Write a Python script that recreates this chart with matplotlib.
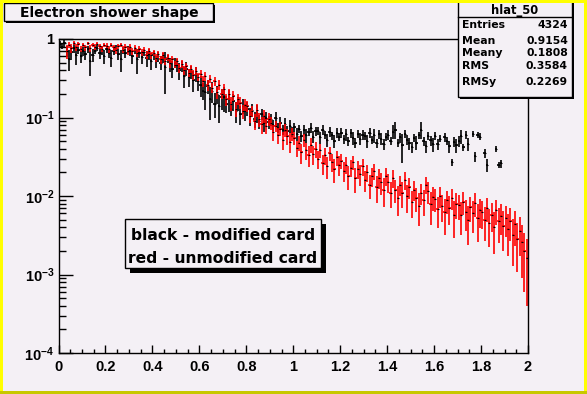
import numpy as np
import matplotlib
matplotlib.use('Agg')
import matplotlib.pyplot as plt
from matplotlib.patches import Rectangle
from matplotlib.ticker import FixedLocator, FixedFormatter, LogLocator, NullFormatter, MultipleLocator

plt.rcParams['font.family'] = ['Liberation Sans', 'DejaVu Sans']
plt.rcParams['font.weight'] = 'bold'
plt.rcParams['mathtext.fontset'] = 'custom'
plt.rcParams['mathtext.rm'] = 'Liberation Sans:bold'
plt.rcParams['mathtext.bf'] = 'Liberation Sans:bold'
plt.rcParams['mathtext.it'] = 'Liberation Sans:bold'

# ---------------- data ----------------
x_min, x_max, n_bins = 0.0, 2.0, 200

red_values = [
    0, 0, 0, 0.70, 0.84, 0.76, 0.88, 0.79, 0.86, 0.75,
    0.85, 0.78, 0.88, 0.76, 0.84, 0.79, 0.87, 0.81, 0.75, 0.85,
    0.82, 0.74, 0.85, 0.78, 0.72, 0.81, 0.84, 0.73, 0.80, 0.71,
    0.79, 0.70, 0.77, 0.67, 0.75, 0.68, 0.73, 0.63, 0.71, 0.62,
    0.67, 0.58, 0.64, 0.55, 0.62, 0.52, 0.58, 0.49, 0.55, 0.47,
    0.52, 0.43, 0.48, 0.40, 0.45, 0.37, 0.42, 0.35, 0.39, 0.33,
    0.36, 0.29, 0.34, 0.26, 0.31, 0.24, 0.29, 0.21, 0.26, 0.20,
    0.23, 0.17, 0.20, 0.15, 0.19, 0.13, 0.17, 0.155, 0.12, 0.145,
    0.14, 0.105, 0.12, 0.09, 0.125, 0.095, 0.082, 0.105, 0.078, 0.096,
    0.085, 0.065, 0.078, 0.06, 0.072, 0.052, 0.07, 0.058, 0.049, 0.062,
    0.055, 0.041, 0.048, 0.036, 0.052, 0.038, 0.033, 0.045, 0.034, 0.040,
    0.030, 0.038, 0.026, 0.033, 0.024, 0.035, 0.027, 0.022, 0.031, 0.025,
    0.028, 0.021, 0.025, 0.018, 0.023, 0.027, 0.017, 0.022, 0.019, 0.024,
    0.016, 0.020, 0.014, 0.018, 0.021, 0.013, 0.017, 0.015, 0.012, 0.018,
    0.015, 0.011, 0.017, 0.012, 0.0095, 0.014, 0.011, 0.016, 0.010, 0.013,
    0.0085, 0.012, 0.0095, 0.0075, 0.011, 0.0088, 0.014, 0.0115, 0.0078, 0.0098,
    0.0092, 0.0068, 0.010, 0.0075, 0.0062, 0.0088, 0.0071, 0.0095, 0.0058, 0.0080,
    0.0076, 0.0058, 0.0085, 0.0062, 0.0049, 0.0072, 0.0060, 0.0082, 0.0052, 0.0066,
    0.0062, 0.0050, 0.0070, 0.0045, 0.0058, 0.0040, 0.0066, 0.0048, 0.0055, 0.0042,
    0.0052, 0.0038, 0.0048, 0.0032, 0.0044, 0.0028, 0.0036, 0.0026, 0.0020, 0.0016,
]
red_err_pct = [
    0, 0, 0, 20, 8, 12, 6, 10, 7, 9,
    6, 9, 5, 10, 6, 8, 5, 8, 10, 6,
    7, 10, 6, 9, 11, 7, 6, 10, 8, 11,
    8, 10, 8, 11, 8, 10, 7, 11, 9, 10,
    9, 11, 10, 12, 9, 11, 10, 13, 11, 10,
    10, 13, 11, 14, 10, 12, 11, 14, 12, 11,
    12, 15, 13, 16, 12, 15, 13, 18, 14, 15,
    15, 18, 16, 20, 14, 22, 16, 18, 20, 17,
    17, 20, 16, 24, 18, 20, 25, 18, 22, 20,
    18, 22, 17, 24, 20, 26, 19, 22, 28, 20,
    20, 24, 22, 28, 19, 25, 30, 22, 27, 23,
    26, 20, 28, 24, 32, 21, 26, 33, 22, 28,
    22, 28, 24, 33, 25, 21, 35, 26, 30, 24,
    30, 24, 34, 27, 23, 38, 28, 31, 40, 26,
    28, 36, 25, 33, 42, 28, 36, 26, 40, 30,
    38, 28, 35, 44, 30, 36, 25, 31, 45, 34,
    32, 42, 30, 38, 48, 33, 40, 30, 50, 36,
    35, 45, 32, 42, 52, 36, 44, 34, 50, 40,
    38, 46, 34, 50, 40, 55, 36, 48, 42, 52,
    42, 55, 45, 60, 48, 62, 52, 65, 70, 75,
]

black_values = [
    0.86, 0.80, 0.88, 0.70, 0.56, 0.68, 0.76, 0.62, 0.72, 0.60,
    0.70, 0.64, 0.74, 0.52, 0.63, 0.71, 0.77, 0.66, 0.72, 0.60,
    0.74, 0.67, 0.58, 0.71, 0.77, 0.64, 0.55, 0.72, 0.66, 0.73,
    0.70, 0.60, 0.72, 0.55, 0.67, 0.59, 0.68, 0.57, 0.64, 0.53,
    0.62, 0.52, 0.60, 0.50, 0.58, 0.44, 0.56, 0.48, 0.42, 0.50,
    0.47, 0.40, 0.45, 0.34, 0.42, 0.33, 0.38, 0.30, 0.36, 0.29,
    0.26, 0.22, 0.21, 0.25, 0.17, 0.22, 0.15, 0.20, 0.14, 0.18,
    0.18, 0.15, 0.17, 0.13, 0.16, 0.12, 0.15, 0.11, 0.14, 0.12,
    0.13, 0.105, 0.125, 0.095, 0.115, 0.09, 0.11, 0.085, 0.10, 0.088,
    0.095, 0.08, 0.098, 0.074, 0.085, 0.07, 0.082, 0.068, 0.078, 0.066,
    0.075, 0.062, 0.072, 0.058, 0.07, 0.06, 0.066, 0.074, 0.057, 0.067,
    0.068, 0.056, 0.07, 0.06, 0.052, 0.066, 0.059, 0.05, 0.064, 0.057,
    0.064, 0.053, 0.061, 0.05, 0.063, 0.055, 0.048, 0.062, 0.054, 0.06,
    0.058, 0.05, 0.064, 0.052, 0.059, 0.047, 0.061, 0.054, 0.046, 0.057,
    0.06, 0.05, 0.066, 0.07, 0.048, 0.056, 0.044, 0.062, 0.052, 0.047,
    0.042, 0.055, 0.048, 0.06, 0.07, 0.05, 0.043, 0.058, 0.051, 0.046,
    0.058, 0.046, 0.054, 0, 0.056, 0.05, 0.043, 0.027, 0.049, 0.044,
    0.05, 0.058, 0.042, 0.06, 0.046, 0, 0.062, 0.032, 0.06, 0.057,
    0, 0.035, 0.025, 0, 0, 0, 0.04, 0.025, 0.026, 0,
    0, 0, 0, 0, 0, 0, 0, 0, 0, 0,
]
black_err_pct = [
    10, 8, 12, 15, 30, 20, 12, 25, 10, 18,
    12, 15, 10, 35, 18, 10, 8, 15, 12, 20,
    10, 14, 25, 12, 8, 15, 30, 10, 14, 10,
    12, 20, 10, 35, 14, 18, 10, 22, 15, 25,
    12, 18, 14, 20, 15, 55, 12, 20, 25, 15,
    18, 25, 15, 30, 20, 25, 18, 30, 22, 25,
    30, 25, 40, 20, 45, 30, 35, 25, 40, 30,
    35, 25, 30, 20, 25, 30, 20, 28, 22, 25,
    20, 25, 18, 22, 25, 20, 15, 22, 18, 20,
    18, 15, 20, 15, 18, 14, 20, 15, 18, 14,
    14, 18, 12, 16, 14, 20, 12, 15, 18, 14,
    12, 18, 15, 12, 20, 14, 12, 18, 15, 12,
    15, 12, 18, 14, 12, 20, 15, 12, 18, 14,
    12, 18, 15, 12, 20, 14, 12, 18, 15, 12,
    14, 12, 20, 25, 12, 15, 40, 12, 14, 18,
    15, 12, 20, 10, 25, 14, 18, 12, 15, 20,
    12, 15, 10, 0, 14, 12, 18, 10, 15, 20,
    15, 20, 10, 12, 18, 0, 10, 15, 8, 10,
    0, 12, 20, 0, 0, 0, 8, 10, 12, 0,
    0, 0, 0, 0, 0, 0, 0, 0, 0, 0,
]

x_ticks = [0, 0.2, 0.4, 0.6, 0.8, 1.0, 1.2, 1.4, 1.6, 1.8, 2.0]
x_tick_labels = ['0', '0.2', '0.4', '0.6', '0.8', '1', '1.2', '1.4', '1.6', '1.8', '2']
y_ticks = [1e-4, 1e-3, 1e-2, 1e-1, 1]
y_tick_labels = [r'$10^{-4}$', r'$10^{-3}$', r'$10^{-2}$', r'$10^{-1}$', '1']

title_text = 'Electron shower shape'
stats_name = 'hlat_50'
stats_labels = ['Entries', 'Mean', 'Meany', 'RMS', 'RMSy']
stats_values = ['4324', '0.9154', '0.1808', '0.3584', '0.2269']
legend_lines = ['black - modified card', 'red - unmodified card']

# ---------------- figure ----------------
W, H = 587, 394
BG = '#f4f0f5'
BOX_FONT = ['DejaVu Sans']
fig = plt.figure(figsize=(W / 100, H / 100), dpi=100, facecolor=BG)


def fx(px):
    return px / W


def fy(py):
    return 1 - py / H


ax_l, ax_r, ax_t, ax_b = 58.5, 528, 39, 353
ax = fig.add_axes([fx(ax_l), fy(ax_b), fx(ax_r - ax_l), (ax_b - ax_t) / H])
ax.set_facecolor(BG)

edges = np.linspace(x_min, x_max, n_bins + 1)
centers = 0.5 * (edges[:-1] + edges[1:])
half_w = 0.5 * (edges[1] - edges[0])


def draw_series(vals, errp, color, mk_color):
    v = np.asarray(vals, float)
    e = v * np.asarray(errp, float) / 100.0
    m = v > 0
    ax.errorbar(centers[m], v[m], yerr=e[m], xerr=half_w, fmt='none',
                ecolor=color, elinewidth=1.2, capsize=0)
    ax.plot(centers[m], v[m], ls='none', marker='_', ms=2.0, mew=0.8, color=mk_color)


draw_series(black_values, black_err_pct, 'black', 'black')
draw_series(red_values, red_err_pct, '#ff0000', 'black')

ax.set_yscale('log')
ax.set_ylim(1e-4, 1)
ax.set_xlim(x_min, x_max)
ax.xaxis.set_major_locator(FixedLocator(x_ticks))
ax.xaxis.set_major_formatter(FixedFormatter(x_tick_labels))
ax.xaxis.set_minor_locator(MultipleLocator(0.05))
ax.yaxis.set_major_locator(FixedLocator(y_ticks))
ax.yaxis.set_major_formatter(FixedFormatter(y_tick_labels))
ax.yaxis.set_minor_locator(LogLocator(base=10, subs=np.arange(2, 10)))
ax.yaxis.set_minor_formatter(NullFormatter())

ax.tick_params(which='both', direction='in', top=False, right=False, width=1, colors='black')
ax.tick_params(axis='x', which='major', length=6, pad=5, labelsize=10.5)
ax.tick_params(axis='x', which='minor', length=3.2)
ax.tick_params(axis='y', which='major', length=10, pad=3, labelsize=10.5)
ax.tick_params(axis='y', which='minor', length=5)
for lab in ax.get_xticklabels() + ax.get_yticklabels():
    lab.set_fontweight('bold')
for s in ax.spines.values():
    s.set_linewidth(1.0)
    s.set_color('black')


def box(x0, y0, x1, y1, shadow, z=10):
    fig.add_artist(Rectangle((fx(x0 + shadow), fy(y1 + shadow)), fx(x1 - x0), (y1 - y0) / H,
                             transform=fig.transFigure, facecolor='black', edgecolor='black',
                             lw=0, zorder=z))
    fig.add_artist(Rectangle((fx(x0), fy(y1)), fx(x1 - x0), (y1 - y0) / H,
                             transform=fig.transFigure, facecolor=BG, edgecolor='black',
                             lw=1.0, zorder=z + 0.1))


# title box
box(4, 3, 213, 21, 2)
fig.text(fx(109.5), fy(17.3), title_text, ha='center', va='baseline', fontsize=10,
         fontweight='bold', family=BOX_FONT, zorder=12)

# stats box
box(458, 1, 572, 97, 2)
fig.add_artist(plt.Line2D([fx(458), fx(572)], [fy(17), fy(17)], transform=fig.transFigure,
                          color='black', lw=1.0, zorder=11))
fig.text(fx(515), fy(14), stats_name, ha='center', va='baseline', fontsize=8.3,
         fontweight='bold', family=BOX_FONT, zorder=12)
stats_baselines = [28.3, 44.5, 56.3, 69.0, 85]
for lab, val, yb in zip(stats_labels, stats_values, stats_baselines):
    fig.text(fx(462), fy(yb), lab, ha='left', va='baseline', fontsize=7.8, fontweight='bold',
             family=BOX_FONT, zorder=12)
    fig.text(fx(568), fy(yb), val, ha='right', va='baseline', fontsize=7.8, fontweight='bold',
             family=BOX_FONT, zorder=12)

# legend box
box(125, 219, 321, 268, 5)
for txt, yb in zip(legend_lines, [240, 263.3]):
    fig.text(fx(223), fy(yb), txt, ha='center', va='baseline', fontsize=11.2,
             fontweight='bold', family=BOX_FONT, zorder=12)

# canvas border
bw = 3
for (x0, y0, x1, y1, c) in [(0, 0, W, bw, '#ffff00'), (0, 0, bw, H, '#ffff00'),
                            (W - bw, 0, W, H, '#ffff00'), (0, H - bw, W, H, '#c8c800')]:
    fig.add_artist(Rectangle((fx(x0), fy(y1)), fx(x1 - x0), (y1 - y0) / H,
                             transform=fig.transFigure, facecolor=c, lw=0, zorder=20))

fig.savefig('out.png', dpi=100, facecolor=BG)
